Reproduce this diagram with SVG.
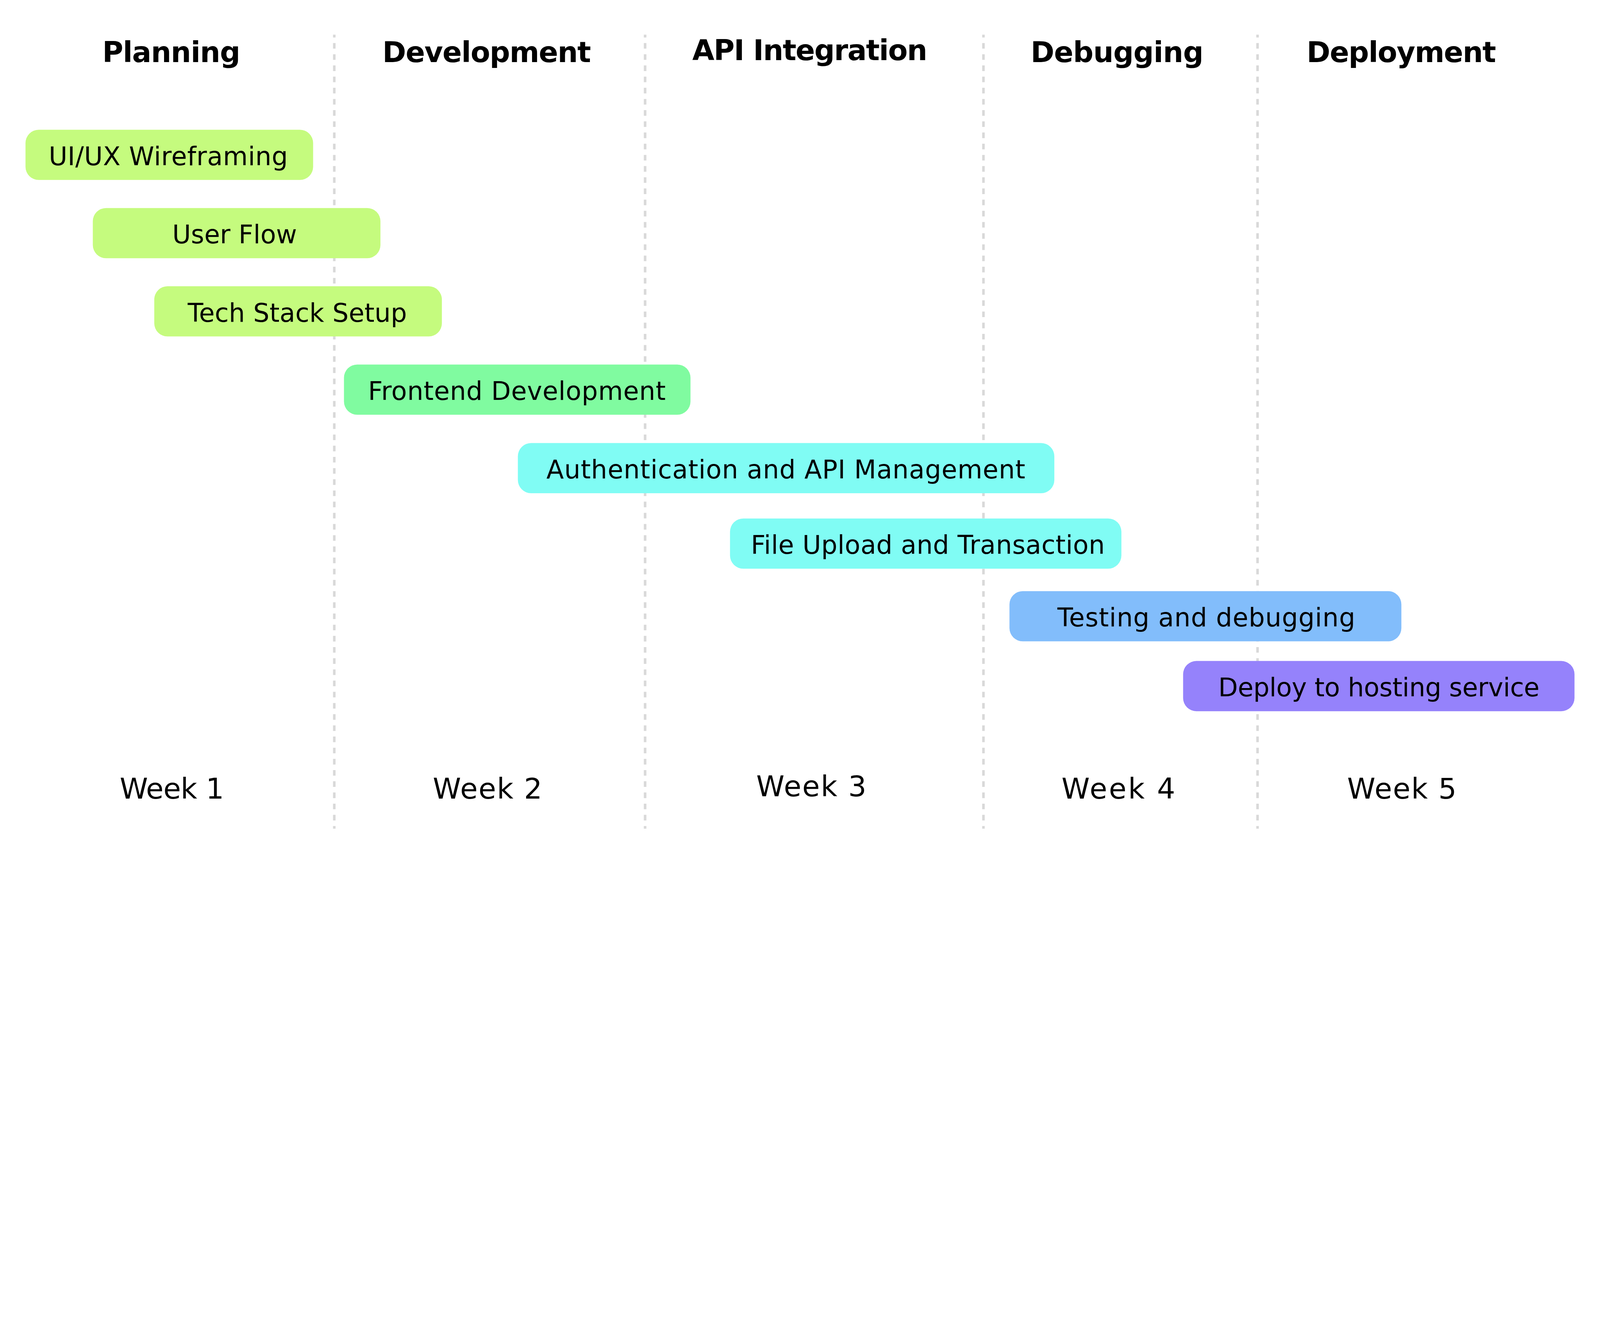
<svg xmlns="http://www.w3.org/2000/svg" width="6275" height="3375" viewBox="0 0 6275 3375" style="max-width:100%;height:auto">
  <style>
    .grid { stroke: #d9d9d9; stroke-width: 10; stroke-dasharray: 22 21.88; stroke-dashoffset: 11; fill: none; }
    .head { font-family: "DejaVu Sans", "Liberation Sans", sans-serif; font-weight: bold; font-size: 112px; fill: #000; text-anchor: middle; }
    .week { font-family: "DejaVu Sans", "Liberation Sans", sans-serif; font-size: 112px; fill: #000; text-anchor: middle; }
    .lbl { font-family: "DejaVu Sans", "Liberation Sans", sans-serif; font-size: 100px; fill: #000; text-anchor: middle; }
    .bar { rx: 52px; ry: 52px; }
    .plan { fill: #c5fb7e; }
    .dev { fill: #80fba0; }
    .api { fill: #80fcf4; }
    .dbg { fill: #82bdfb; }
    .dep { fill: #9582fb; }
  </style>
  <rect width="6275" height="3375" fill="#ffffff"/>
  <g id="gridlines">
    <line class="grid" x1="1311" y1="136" x2="1311" y2="3251"/>
    <line class="grid" x1="2530" y1="136" x2="2530" y2="3251"/>
    <line class="grid" x1="3857" y1="136" x2="3857" y2="3251"/>
    <line class="grid" x1="4932" y1="136" x2="4932" y2="3251"/>
  </g>
  <g id="headers">
    <text class="head" x="672" y="243" textLength="541">Planning</text>
    <text class="head" x="1909" y="243" textLength="818">Development</text>
    <text class="head" x="3176" y="236" textLength="922">API Integration</text>
    <text class="head" x="4381" y="243" textLength="678">Debugging</text>
    <text class="head" x="5496" y="243" textLength="743">Deployment</text>
  </g>
  <g id="task-uiux">
    <rect class="bar plan" x="100" y="509" width="1128" height="197"/>
    <text class="lbl" x="660" y="648" textLength="938">UI/UX Wireframing</text>
  </g>
  <g id="task-userflow">
    <rect class="bar plan" x="364" y="816" width="1128" height="197"/>
    <text class="lbl" x="920" y="955" textLength="489">User Flow</text>
  </g>
  <g id="task-techstack">
    <rect class="bar plan" x="605" y="1123" width="1128" height="197"/>
    <text class="lbl" x="1166" y="1262" textLength="860">Tech Stack Setup</text>
  </g>
  <g id="task-frontend">
    <rect class="bar dev" x="1349" y="1430" width="1359" height="197"/>
    <text class="lbl" x="2027" y="1569" textLength="1167">Frontend Development</text>
  </g>
  <g id="task-auth">
    <rect class="bar api" x="2031" y="1738" width="2104" height="197"/>
    <text class="lbl" x="3082" y="1877" textLength="1878">Authentication and API Management</text>
  </g>
  <g id="task-fileupload">
    <rect class="bar api" x="2863" y="2034" width="1535" height="197"/>
    <text class="lbl" x="3639" y="2173" textLength="1388">File Upload and Transaction</text>
  </g>
  <g id="task-testing">
    <rect class="bar dbg" x="3959" y="2319" width="1537" height="197"/>
    <text class="lbl" x="4731" y="2458" textLength="1168">Testing and debugging</text>
  </g>
  <g id="task-deploy">
    <rect class="bar dep" x="4640" y="2593" width="1535" height="197"/>
    <text class="lbl" x="5408" y="2732" textLength="1260">Deploy to hosting service</text>
  </g>
  <g id="weeks">
    <text class="week" x="674" y="3133" textLength="409">Week 1</text>
    <text class="week" x="1912" y="3133" textLength="429">Week 2</text>
    <text class="week" x="3182" y="3123" textLength="432">Week 3</text>
    <text class="week" x="4386" y="3133" textLength="446">Week 4</text>
    <text class="week" x="5498" y="3133" textLength="429">Week 5</text>
  </g>
</svg>
